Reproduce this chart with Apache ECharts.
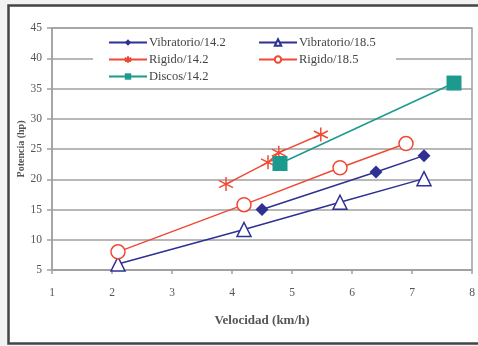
<!DOCTYPE html>
<html><head><meta charset="utf-8">
<script src="https://cdn.jsdelivr.net/npm/echarts@6/dist/echarts.min.js"></script>
<style>html,body{margin:0;padding:0;background:#f2f2f2;overflow:hidden;}#c{width:478px;height:346px;}</style>
</head><body><div id="c"></div>
<script>
const xTicks = [1, 2, 3, 4, 5, 6, 7, 8];
const yTicks = [5, 10, 15, 20, 25, 30, 35, 40, 45];
const vib142 = [[4.5, 15.0], [6.4, 21.2], [7.2, 23.9]];
const vib185 = [[2.1, 6.0], [4.2, 11.7], [5.8, 16.2], [7.2, 20.1]];
const rig142 = [[3.9, 19.2], [4.6, 22.8], [4.78, 24.4], [5.48, 27.4]];
const rig185 = [[2.1, 8.0], [4.2, 15.8], [5.8, 21.9], [6.9, 25.9]];
const dis142 = [[4.8, 22.6], [7.7, 35.9]];
const names = ['Vibratorio/14.2', 'Vibratorio/18.5', 'Rigido/14.2', 'Rigido/18.5', 'Discos/14.2'];

const NAVY = '#2e3192', RED = '#f04a36', TEAL = '#1c9a8d';
const star = 'path://M0,-10L0,10M-8.66,-5L8.66,5M-8.66,5L8.66,-5';
const font = 'Liberation Serif';

const chart = echarts.init(document.getElementById('c'));
chart.setOption({
  animation: false,
  backgroundColor: 'transparent',
  textStyle: { fontFamily: font },
  graphic: [
    { type: 'rect', z: -10, shape: { x: 8, y: 5, width: 480, height: 339 },
      style: { fill: '#ffffff' } },
    { type: 'polyline', z: -9, shape: { points: [[490, 5.5], [8.5, 5.5], [8.5, 343.5], [490, 343.5]] },
      style: { fill: 'none', stroke: '#444', lineWidth: 2.5 } },
    { type: 'rect', z: 1, shape: { x: 93, y: 30, width: 303, height: 57 },
      style: { fill: '#ffffff' } }
  ],
  grid: { left: 52, top: 28, right: 6, bottom: 76, show: true, borderColor: '#a0a0a0', borderWidth: 1.5, backgroundColor: 'transparent' },
  legend: [
    { data: [names[0], names[2], names[4]], orient: 'vertical', left: 103, top: 31, itemGap: 4,
      itemWidth: 38, itemHeight: 8, textStyle: { fontFamily: font, fontSize: 12.5, color: '#444', padding: [0, 0, 0, -3] } },
    { data: [names[1], names[3]], orient: 'vertical', left: 253, top: 31, itemGap: 4,
      itemWidth: 38, itemHeight: 8, textStyle: { fontFamily: font, fontSize: 12.5, color: '#444', padding: [0, 0, 0, -3] } }
  ],
  xAxis: {
    type: 'value', min: xTicks[0], max: xTicks[xTicks.length - 1], interval: 1,
    name: 'Velocidad (km/h)', nameLocation: 'middle', nameGap: 44, nameMoveOverlap: false,
    nameTextStyle: { fontFamily: font, fontSize: 13, fontWeight: 'bold', color: '#555' },
    axisLine: { lineStyle: { color: '#a0a0a0', width: 1.5 } },
    axisTick: { show: true, length: 4, lineStyle: { color: '#a0a0a0', width: 1.5 } },
    axisLabel: { fontFamily: font, fontSize: 11.5, color: '#555', margin: 17 },
    splitLine: { show: false }
  },
  yAxis: {
    type: 'value', min: yTicks[0], max: yTicks[yTicks.length - 1], interval: 5,
    name: 'Potencia (hp)', nameLocation: 'middle', nameGap: 26, nameMoveOverlap: false,
    nameTextStyle: { fontFamily: font, fontSize: 10, fontWeight: 'bold', color: '#555' },
    axisLine: { show: true, lineStyle: { color: '#a0a0a0', width: 1.5 } },
    axisTick: { show: true, length: 5, lineStyle: { color: '#a0a0a0', width: 1.5 } },
    axisLabel: { fontFamily: font, fontSize: 11.5, color: '#555', margin: 10 },
    splitLine: { show: true, lineStyle: { color: '#a0a0a0', width: 1.5 } }
  },
  series: [
    { name: names[0], type: 'line', data: vib142, symbol: 'diamond', symbolSize: 13,
      lineStyle: { color: NAVY, width: 1.5 }, itemStyle: { color: NAVY } },
    { name: names[1], type: 'line', data: vib185, symbol: 'triangle', symbolSize: 14,
      lineStyle: { color: NAVY, width: 1.5 }, itemStyle: { color: '#fff', borderColor: NAVY, borderWidth: 1.5 } },
    { name: names[2], type: 'line', data: rig142, symbol: star, symbolSize: 14,
      lineStyle: { color: RED, width: 1.5 }, itemStyle: { color: RED, borderColor: RED, borderWidth: 1.5 } },
    { name: names[3], type: 'line', data: rig185, symbol: 'circle', symbolSize: 14,
      lineStyle: { color: RED, width: 1.5 }, itemStyle: { color: '#fff', borderColor: RED, borderWidth: 1.5 } },
    { name: names[4], type: 'line', data: dis142, symbol: 'rect', symbolSize: 15,
      lineStyle: { color: TEAL, width: 1.5 }, itemStyle: { color: TEAL } }
  ]
});
</script></body></html>
